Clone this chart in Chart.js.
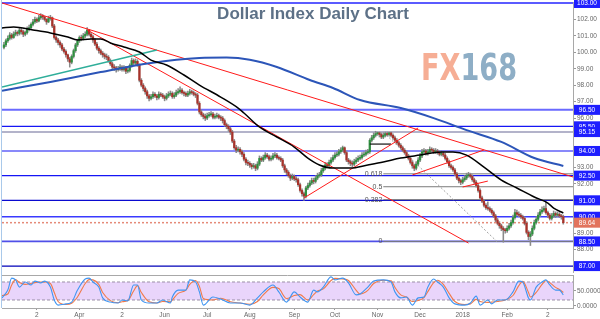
<!DOCTYPE html>
<html><head><meta charset="utf-8">
<script src="https://cdn.jsdelivr.net/npm/chart.js@4.4.1/dist/chart.umd.min.js"></script>
<style>
html,body{margin:0;padding:0;background:#fff;width:600px;height:319px;overflow:hidden;}
#wrap{position:relative;width:600px;height:319px;background:#fff;}
#c1{position:absolute;left:0;top:0;}
#c2{position:absolute;left:0;top:274px;}
</style></head><body>
<div id="wrap">
<canvas id="c1" width="600" height="274"></canvas>
<canvas id="c2" width="600" height="45"></canvas>
</div>
<script>
// ---------------- DATA ----------------
const chartTitle = "Dollar Index Daily Chart";
const monthTickIdx = [17,39,61,83,105,127,150,171,193,215,237,260,281];
const monthLabels = ["2","Apr","2","Jun","Jul","Aug","Sep","Oct","Nov","Dec","2018","Feb","2"];

const opens = [100.3,100.45,100.7,100.85,101.05,100.9,101.1,101.2,101.15,101.35,
101.25,101.1,101.2,101.4,101.5,101.7,101.85,102.0,101.9,102.1,
102.2,102.15,102.0,101.85,102.05,102.1,101.6,100.9,100.75,100.6,
100.45,100.2,100.05,99.85,99.6,99.4,99.75,100.1,100.45,100.7,
100.9,100.85,101.0,101.1,101.35,101.1,100.95,100.75,100.5,100.25,
100.1,99.95,99.85,99.75,99.7,99.5,99.3,99.1,99.05,98.95,
99.0,99.1,98.95,99.05,98.85,98.9,99.2,99.5,99.35,99.45,
99.25,98.3,98.0,97.8,97.6,97.35,97.2,97.3,97.45,97.35,
97.25,97.45,97.4,97.3,97.2,97.35,97.45,97.5,97.3,97.4,
97.55,97.6,97.7,97.55,97.5,97.4,97.5,97.6,97.55,97.45,
97.4,96.9,96.37,96.2,96.1,96.0,96.15,96.2,96.25,96.05,
96.1,96.15,96.05,96.0,95.85,95.6,95.5,95.35,95.15,94.6,
94.2,94.05,94.1,93.95,93.8,93.5,93.3,93.25,93.15,93.05,
93.1,92.95,93.2,93.55,93.45,93.6,93.75,93.65,93.5,93.55,
93.7,93.75,93.6,93.55,93.45,93.1,92.85,92.7,92.5,92.35,
92.45,92.3,92.25,91.95,91.6,91.4,91.25,91.75,91.9,92.05,
92.2,92.15,92.35,92.5,92.55,92.8,92.95,93.15,93.1,93.3,
93.45,93.6,93.75,93.8,93.95,94.05,94.2,93.9,93.45,93.35,
93.25,93.2,93.35,93.45,93.55,93.6,93.75,93.8,93.9,93.95,
94.65,94.8,94.95,95.05,95.1,95.0,94.85,94.95,95.05,95.0,
95.1,94.95,94.8,94.65,94.5,94.35,94.2,94.05,93.9,93.7,
93.55,93.3,93.1,92.95,93.2,93.45,93.7,93.95,94.0,93.85,
93.95,94.1,94.05,93.95,94.0,93.9,93.8,93.85,93.75,93.55,
93.35,93.1,93.0,92.85,92.6,92.35,92.2,92.1,92.25,92.35,
92.5,92.55,92.45,92.25,92.1,91.9,91.6,91.15,90.95,90.7,
90.55,90.5,90.4,90.25,90.05,89.8,89.6,89.45,89.3,89.2,
89.15,89.3,89.45,89.65,89.95,90.25,90.15,90.1,90.0,89.9,
89.6,89.05,88.8,88.95,89.3,89.65,89.85,90.1,90.3,90.4,
90.5,90.25,90.1,89.9,90.05,90.2,90.1,90.15,90.05,90.0];

const closes = [100.45,100.7,100.85,101.05,100.9,101.1,101.2,101.15,101.35,101.25,
101.1,101.2,101.4,101.5,101.7,101.85,102.0,101.9,102.1,102.2,
102.15,102.0,101.85,102.05,102.1,101.6,100.9,100.75,100.6,100.45,
100.2,100.05,99.85,99.6,99.4,99.75,100.1,100.45,100.7,100.9,
100.85,101.0,101.1,101.35,101.1,100.95,100.75,100.5,100.25,100.1,
99.95,99.85,99.75,99.7,99.5,99.3,99.1,99.05,98.95,99.0,
99.1,98.95,99.05,98.85,98.9,99.2,99.5,99.35,99.45,99.25,
98.3,98.0,97.8,97.6,97.35,97.2,97.3,97.45,97.35,97.25,
97.45,97.4,97.3,97.2,97.35,97.45,97.5,97.3,97.4,97.55,
97.6,97.7,97.55,97.5,97.4,97.5,97.6,97.55,97.45,97.4,
96.9,96.37,96.2,96.1,96.0,96.15,96.2,96.25,96.05,96.1,
96.15,96.05,96.0,95.85,95.6,95.5,95.35,95.15,94.6,94.2,
94.05,94.1,93.95,93.8,93.5,93.3,93.25,93.15,93.05,93.1,
92.95,93.2,93.55,93.45,93.6,93.75,93.65,93.5,93.55,93.7,
93.75,93.6,93.55,93.45,93.1,92.85,92.7,92.5,92.35,92.45,
92.3,92.25,91.95,91.6,91.4,91.25,91.75,91.9,92.05,92.2,
92.15,92.35,92.5,92.55,92.8,92.95,93.15,93.1,93.3,93.45,
93.6,93.75,93.8,93.95,94.05,94.2,93.9,93.45,93.35,93.25,
93.2,93.35,93.45,93.55,93.6,93.75,93.8,93.9,93.95,94.65,
94.8,94.95,95.05,95.1,95.0,94.85,94.95,95.05,95.0,95.1,
94.95,94.8,94.65,94.5,94.35,94.2,94.05,93.9,93.7,93.55,
93.3,93.1,92.95,93.2,93.45,93.7,93.95,94.0,93.85,93.95,
94.1,94.05,93.95,94.0,93.9,93.8,93.85,93.75,93.55,93.35,
93.1,93.0,92.85,92.6,92.35,92.2,92.1,92.25,92.35,92.5,
92.55,92.45,92.25,92.1,91.9,91.6,91.15,90.95,90.7,90.55,
90.5,90.4,90.25,90.05,89.8,89.6,89.45,89.3,89.2,89.15,
89.3,89.45,89.65,89.95,90.25,90.15,90.1,90.0,89.9,89.6,
89.05,88.8,88.95,89.3,89.65,89.85,90.1,90.3,90.4,90.5,
90.25,90.1,89.9,90.05,90.2,90.1,90.15,90.05,90.0,89.64];

const highs = [100.6,100.8,101.0,101.2,101.15,101.25,101.35,101.3,101.5,101.45,
101.35,101.3,101.55,101.65,101.8,102.0,102.15,102.1,102.25,102.35,
102.3,102.2,102.05,102.2,102.25,102.15,101.7,101.0,100.85,100.7,
100.55,100.3,100.15,99.9,99.7,99.85,100.2,100.55,100.8,101.0,
101.05,101.15,101.25,101.5,101.4,101.2,101.05,100.85,100.6,100.35,
100.2,100.05,99.95,99.9,99.8,99.6,99.4,99.25,99.15,99.15,
99.25,99.2,99.2,99.15,99.05,99.3,99.65,99.6,99.6,99.55,
99.3,98.4,98.1,97.9,97.7,97.45,97.45,97.6,97.55,97.45,
97.6,97.55,97.5,97.4,97.5,97.6,97.65,97.6,97.55,97.7,
97.8,97.9,97.8,97.65,97.6,97.65,97.75,97.7,97.65,97.55,
97.5,97.0,96.5,96.3,96.25,96.3,96.35,96.4,96.35,96.25,
96.3,96.25,96.15,96.1,95.95,95.7,95.6,95.45,95.25,94.7,
94.35,94.25,94.2,94.05,93.9,93.6,93.45,93.35,93.25,93.25,
93.2,93.35,93.7,93.65,93.75,93.9,93.85,93.75,93.7,93.85,
93.9,93.85,93.7,93.65,93.55,93.2,92.95,92.8,92.6,92.6,
92.55,92.45,92.35,92.05,91.7,91.5,91.85,92.05,92.2,92.35,
92.35,92.5,92.65,92.7,92.95,93.1,93.3,93.3,93.45,93.6,
93.75,93.9,93.95,94.1,94.2,94.3,94.25,94.0,93.55,93.45,
93.4,93.5,93.6,93.7,93.75,93.9,93.95,94.05,94.1,94.75,
94.95,95.1,95.2,95.15,95.15,95.1,95.1,95.15,95.15,95.15,
95.15,95.05,94.9,94.75,94.6,94.45,94.3,94.15,94.0,93.8,
93.65,93.4,93.2,93.35,93.6,93.85,94.1,94.15,94.1,94.1,
94.25,94.2,94.15,94.15,94.1,94.0,94.0,93.95,93.85,93.65,
93.45,93.2,93.1,92.95,92.7,92.45,92.3,92.4,92.5,92.65,
92.7,92.65,92.55,92.35,92.2,92.0,91.7,91.25,91.05,90.8,
90.9,90.6,90.5,90.35,90.15,89.9,89.7,89.55,89.4,89.3,
89.45,89.6,89.8,90.1,90.45,90.4,90.3,90.2,90.1,90.0,
89.7,89.15,89.1,89.45,89.8,90.0,90.25,90.45,90.6,90.65,
90.9,90.35,90.2,90.2,90.35,90.3,90.3,90.25,90.15,90.1];

const lows = [100.2,100.35,100.6,100.75,100.8,100.85,101.0,101.0,101.05,101.1,
100.95,101.0,101.1,101.3,101.4,101.6,101.75,101.8,101.85,102.0,
102.0,101.9,101.7,101.8,101.95,101.5,100.8,100.6,100.45,100.3,
100.1,99.95,99.7,99.45,99.1,99.3,99.65,100.0,100.35,100.6,
100.7,100.75,100.9,101.0,101.0,100.85,100.6,100.4,100.15,99.95,
99.85,99.7,99.6,99.55,99.4,99.2,99.0,98.9,98.8,98.85,
98.9,98.85,98.85,98.7,98.75,98.8,99.1,99.25,99.25,99.15,
98.2,97.9,97.65,97.45,97.2,97.05,97.1,97.2,97.25,97.1,
97.15,97.3,97.2,97.05,97.1,97.25,97.35,97.2,97.2,97.3,
97.45,97.5,97.45,97.35,97.3,97.3,97.4,97.45,97.35,97.25,
96.8,96.25,96.1,95.95,95.85,95.9,96.05,96.1,95.95,95.95,
96.0,95.95,95.85,95.7,95.5,95.35,95.2,95.0,94.5,94.1,
93.9,93.95,93.8,93.65,93.4,93.15,93.1,93.0,92.9,92.95,
92.8,92.85,93.1,93.35,93.35,93.5,93.55,93.4,93.4,93.45,
93.6,93.5,93.45,93.35,93.0,92.7,92.55,92.4,92.2,92.25,
92.2,92.1,91.85,91.5,91.25,91.0,91.15,91.65,91.8,91.95,
92.0,92.05,92.25,92.4,92.45,92.7,92.85,93.0,93.0,93.2,
93.35,93.5,93.65,93.7,93.85,93.95,93.8,93.35,93.2,93.1,
93.05,93.1,93.25,93.35,93.45,93.5,93.65,93.7,93.8,93.85,
94.55,94.7,94.85,94.95,94.85,94.75,94.75,94.85,94.9,94.9,
94.85,94.7,94.55,94.4,94.25,94.1,93.95,93.8,93.6,93.45,
93.2,92.95,92.8,92.85,93.1,93.35,93.6,93.85,93.75,93.75,
93.85,93.95,93.85,93.85,93.8,93.7,93.7,93.65,93.45,93.25,
93.0,92.9,92.75,92.5,92.25,92.05,91.95,92.0,92.15,92.25,
92.4,92.35,92.15,92.0,91.8,91.5,91.05,90.85,90.6,90.45,
90.4,90.3,90.15,89.95,89.7,89.5,89.3,89.15,88.45,89.0,
89.05,89.2,89.35,89.55,89.85,90.05,90.0,89.9,89.8,89.5,
88.95,88.6,88.25,88.85,89.2,89.55,89.75,90.0,90.2,90.3,
90.15,89.95,89.8,89.8,89.95,89.95,90.0,89.95,89.85,89.55];

// moving averages (bar index, value)
const maFastIdx = [-1,5,15,24,33,38,45,50,55,62,70,76,84,93,101,112,121,124,132,141,150,157,163,170,179,188,196,205,215,226,232,239,248,257,265,274,281,284,289];
const maFast    = [101.48,101.54,101.36,101.18,100.93,100.75,100.81,100.81,100.57,100.32,100.02,99.53,99.23,98.62,98.01,97.28,96.61,96.31,95.46,94.85,94.24,93.57,93.15,92.96,92.96,93.15,93.33,93.57,93.75,93.94,93.94,93.75,93.02,92.23,91.75,91.20,90.83,90.53,90.23];
const maSlowIdx = [-1,24,50,76,101,115,127,141,158,170,184,205,222,239,257,274,289];
const maSlow    = [97.66,98.2,98.8,99.35,99.65,99.68,99.55,99.11,98.32,97.83,97.10,96.61,96.00,95.27,94.55,93.57,93.09];

// drawn trend lines: [startIdx, startPrice, endIdx, endPrice]
const trendRed1   = [-1, 103.0, 294, 92.42];
const trendRed2   = [43, 101.36, 240, 88.40];
const trendTeal   = [-1, 97.89, 79, 100.14];
const trendRedUp1 = [155, 91.14, 214, 95.40];
const trendRedUp2 = [211, 92.54, 248, 94.06];
const trendRedUp3 = [237, 91.81, 250, 92.17];
const rangeBlack  = [189, 94.42, 200, 94.42];
const fibDiag     = [196, 95.15, 255, 88.46];

// horizontal levels
const keyLevels = [103.00, 96.50, 95.50, 95.15, 94.00, 92.50, 91.00, 90.00, 88.50, 87.00];
const lastPrice = 89.64;
const axisTicks = [102,101,100,99,98,97,96,93,92,89,88];
const fibRatios = [0.618, 0.5, 0.382, 0];
const fibHigh = 95.15, fibLow = 88.5, fibStartIdx = 196;

// stochastic oscillator
const stochIdx = [-1,2,4,6,8,11,14,16,19,21,24,26,28,32,35,38,42,44,46,49,51,55,59,61,64,67,69,71,75,79,82,86,87,90,94,96,99,101,103,108,112,117,122,127,131,134,139,142,146,150,153,157,160,162,165,169,171,175,178,182,184,188,191,196,200,202,205,208,211,214,217,219,222,224,227,230,233,238,241,244,246,250,252,255,259,263,266,268,271,272,275,278,280,282,285,287,289];
const stochK = [27,53,93,87,63,80,70,83,77,83,63,20,3,7,13,53,90,93,80,63,27,13,10,20,17,70,70,20,10,10,20,10,30,53,53,87,80,47,3,30,23,10,10,3,27,47,70,47,13,47,30,13,53,47,63,97,87,93,77,37,40,63,83,87,80,47,27,30,3,27,30,63,90,80,63,27,7,3,10,33,3,20,7,20,20,47,83,80,27,20,63,80,87,70,53,53,37];
const stochD = [35,40,70,88,78,72,75,78,80,80,75,45,15,5,9,30,75,88,87,72,45,18,11,14,18,50,68,45,14,10,15,14,20,42,53,72,85,65,25,20,26,14,10,6,15,37,62,58,25,35,38,20,38,50,57,85,92,90,85,52,40,52,75,86,84,62,37,30,15,18,28,48,78,86,72,42,15,5,7,22,15,12,13,15,20,35,68,82,45,30,45,72,84,78,62,55,45];
const stochUpper = 80, stochLower = 20;
const stochAxisTicks = [50, 0];

// ---------------- STYLES ----------------
const UP = '#2f8f3f', DOWN = '#a8322a', WICK = '#8a8a8a';
const levelLineStyles = [
  {color:'#5b5bff', width:2},
  {color:'#6a6aff', width:2},
  {color:'#1515f5', width:1.2},
  {color:'#9a9ab8', width:1.5},
  {color:'#1515f5', width:1.2},
  {color:'#1515f5', width:1.2},
  {color:'#0a0ad0', width:1.2},
  {color:'#3a3aff', width:1.6},
  {color:'#5050e8', width:1.8},
  {color:'#0000b8', width:1.2}
];
const boxBlue = '#1e1eff', boxRed = '#e2735c';
const FONT = "'Liberation Sans', Arial, sans-serif";

// ---------------- MAIN CHART ----------------
const barIdx = closes.map((_, i) => i);
const seg = (t) => [{x:t[0], y:t[1]}, {x:t[2], y:t[3]}];
const lineDs = (data, color, width, extra) => Object.assign({
  type:'line', data, borderColor:color, borderWidth:width, pointRadius:0,
  fill:false, tension:0, order:1 }, extra || {});

const overlay = {
  id:'overlay',
  beforeDatasetsDraw(chart){
    const {ctx, chartArea:a, scales:{x, y}} = chart;
    ctx.save();
    // watermark
    ctx.font = "bold 36px 'DejaVu Sans', " + FONT;
    ctx.textBaseline = 'alphabetic';
    const w1 = ctx.measureText('FX').width, w2 = ctx.measureText('168').width;
    const sx = 96 / (w1 + w2);
    ctx.translate(421, 80); ctx.scale(sx, 27/26);
    ctx.fillStyle = '#f6ae95'; ctx.fillText('FX', 0, 0);
    ctx.fillStyle = '#8eaec6'; ctx.fillText('168', w1, 0);
    ctx.restore();

    ctx.save();
    ctx.beginPath(); ctx.rect(a.left, 0, a.right - a.left, a.bottom); ctx.clip();
    keyLevels.forEach((v, k) => {
      const st = levelLineStyles[k];
      const py = y.getPixelForValue(v);
      ctx.strokeStyle = st.color; ctx.lineWidth = st.width;
      ctx.beginPath(); ctx.moveTo(a.left, py); ctx.lineTo(a.right, py); ctx.stroke();
    });
    // last price dotted
    const lp = y.getPixelForValue(lastPrice);
    ctx.setLineDash([2, 2]); ctx.strokeStyle = '#e58a78'; ctx.lineWidth = 1.5;
    ctx.beginPath(); ctx.moveTo(a.left, lp); ctx.lineTo(a.right, lp); ctx.stroke();
    ctx.setLineDash([]);
    // fib lines
    const fx = x.getPixelForValue(fibStartIdx);
    ctx.strokeStyle = '#7a7a7a'; ctx.lineWidth = 1;
    fibRatios.forEach(r => {
      const py = y.getPixelForValue(fibLow + r * (fibHigh - fibLow));
      ctx.beginPath(); ctx.moveTo(fx, py); ctx.lineTo(a.right, py); ctx.stroke();
    });
    // fib diagonal
    ctx.setLineDash([2, 2]); ctx.strokeStyle = '#a0a0a0';
    ctx.beginPath();
    ctx.moveTo(x.getPixelForValue(fibDiag[0]), y.getPixelForValue(fibDiag[1]));
    ctx.lineTo(x.getPixelForValue(fibDiag[2]), y.getPixelForValue(fibDiag[3]));
    ctx.stroke(); ctx.setLineDash([]);
    ctx.restore();
  },
  afterDraw(chart){
    const {ctx, chartArea:a, scales:{x, y}} = chart;
    ctx.save();
    // left frame line
    ctx.strokeStyle = '#a9c9ea'; ctx.lineWidth = 1;
    ctx.beginPath(); ctx.moveTo(1.5, 0); ctx.lineTo(1.5, chart.height); ctx.stroke();
    // fib labels
    const fx = x.getPixelForValue(fibStartIdx);
    ctx.font = '7px ' + FONT; ctx.fillStyle = '#555'; ctx.textAlign = 'right'; ctx.textBaseline = 'middle';
    fibRatios.forEach(r => {
      const py = y.getPixelForValue(fibLow + r * (fibHigh - fibLow));
      ctx.fillText(String(r), fx - 1, py);
    });
    // axis boxes
    ctx.font = '6.5px ' + FONT; ctx.textAlign = 'center';
    const drawBox = (v, col) => {
      const py = y.getPixelForValue(v);
      ctx.fillStyle = col; ctx.fillRect(a.right + 1, py - 5, 26, 10);
      ctx.fillStyle = '#fff'; ctx.fillText(v.toFixed(2), a.right + 14, py + 0.5);
    };
    keyLevels.forEach(v => drawBox(v, boxBlue));
    drawBox(lastPrice, boxRed);
    // title
    ctx.font = 'bold 17px ' + FONT; ctx.fillStyle = '#5d7187';
    ctx.textAlign = 'center'; ctx.textBaseline = 'alphabetic';
    ctx.fillText(chartTitle, 313, 18.5);
    ctx.restore();
  }
};

new Chart(document.getElementById('c1'), {
  type:'bar',
  data:{ datasets:[
    lineDs(seg(trendTeal), '#2fae9a', 1.5),
    lineDs(maSlowIdx.map((v,k)=>({x:v, y:maSlow[k]})), '#2c55b8', 2, {tension:0.4, cubicInterpolationMode:'monotone'}),
    lineDs(seg(trendRed1), '#ff1a1a', 1),
    lineDs(seg(trendRed2), '#ff1a1a', 1),
    lineDs(seg(trendRedUp1), '#ff1a1a', 1),
    lineDs(seg(trendRedUp2), '#ff1a1a', 1),
    lineDs(seg(trendRedUp3), '#ff1a1a', 1),
    lineDs(maFastIdx.map((v,k)=>({x:v, y:maFast[k]})), '#000000', 1.5, {tension:0.4, cubicInterpolationMode:'monotone', order:0}),
    lineDs(seg(rangeBlack), '#111', 1.2),
    { type:'bar', data: barIdx.map(i => ({x:i, y:[lows[i], highs[i]]})),
      backgroundColor: WICK, barThickness: 0.9, grouped:false, order:3 },
    { type:'bar', data: barIdx.map(i => ({x:i, y:[opens[i], closes[i]]})),
      backgroundColor: barIdx.map(i => closes[i] >= opens[i] ? UP : DOWN),
      barThickness: 1.6, minBarLength: 1, grouped:false, order:2 }
  ]},
  options:{
    responsive:false, animation:false, events:[],
    layout:{ padding:{ left:2, top:2, right:0, bottom:2 } },
    plugins:{ legend:{display:false}, tooltip:{enabled:false} },
    scales:{
      x:{ type:'linear', min:-1, max:294, display:false, offset:false },
      y:{ position:'right', min:86.64, max:103.06,
        afterFit(s){ s.width = 27; s.paddingTop = 0; s.paddingBottom = 0; },
        afterBuildTicks(s){ s.ticks = axisTicks.map(v => ({value:v})); },
        ticks:{ color:'#666', padding:1, font:{size:6.5, family:FONT}, callback:v => Number(v).toFixed(2), autoSkip:false },
        grid:{ display:true, drawOnChartArea:false, drawTicks:true, tickLength:3, color:'#999' },
        border:{ display:true, color:'#a8a8a8' } }
    }
  },
  plugins:[overlay]
});

// ---------------- STOCHASTIC PANEL ----------------
const band = {
  id:'band',
  beforeDatasetsDraw(chart){
    const {ctx, chartArea:a, scales:{y}} = chart;
    const yU = y.getPixelForValue(stochUpper), yL = y.getPixelForValue(stochLower);
    ctx.save();
    ctx.fillStyle = '#e9d5fb';
    ctx.fillRect(a.left, yU, a.right - a.left, yL - yU);
    ctx.strokeStyle = '#9a8fa6'; ctx.lineWidth = 1; ctx.setLineDash([3, 2]);
    [yU, yL].forEach(py => { ctx.beginPath(); ctx.moveTo(a.left, py); ctx.lineTo(a.right, py); ctx.stroke(); });
    ctx.setLineDash([]);
    ctx.strokeStyle = '#a8a8a8';
    ctx.beginPath(); ctx.moveTo(a.left, a.top + 0.5); ctx.lineTo(a.right, a.top + 0.5); ctx.stroke();
    ctx.restore();
  },
  afterDraw(chart){
    const {ctx} = chart;
    ctx.save();
    ctx.strokeStyle = '#a9c9ea'; ctx.lineWidth = 1;
    ctx.beginPath(); ctx.moveTo(1.5, 0); ctx.lineTo(1.5, chart.chartArea.bottom); ctx.stroke();
    ctx.restore();
  }
};

new Chart(document.getElementById('c2'), {
  type:'line',
  data:{ datasets:[
    { data: stochIdx.map((v,k)=>({x:v, y:stochK[k]})), borderColor:'#3f95f2', borderWidth:1.1, pointRadius:0, tension:0.4, cubicInterpolationMode:'monotone' },
    { data: stochIdx.map((v,k)=>({x:v, y:stochD[k]})), borderColor:'#f07a4a', borderWidth:1.1, pointRadius:0, tension:0.4, cubicInterpolationMode:'monotone' }
  ]},
  options:{
    responsive:false, animation:false, events:[],
    layout:{ padding:{ left:2, top:1, right:0, bottom:0 } },
    plugins:{ legend:{display:false}, tooltip:{enabled:false} },
    scales:{
      x:{ type:'linear', min:-1, max:294, position:'bottom',
        afterFit(s){ s.height = 11; s.paddingLeft = 0; s.paddingRight = 0; },
        afterBuildTicks(s){ s.ticks = monthTickIdx.map(v => ({value:v})); },
        ticks:{ color:'#666', padding:1, maxRotation:0, autoSkip:false, font:{size:6.5, family:FONT},
          callback:(v) => monthLabels[monthTickIdx.indexOf(v)] },
        grid:{ display:true, drawOnChartArea:false, drawTicks:true, tickLength:2, color:'#999' },
        border:{ display:true, color:'#a8a8a8' } },
      y:{ position:'right', min:-6.7, max:103.3,
        afterFit(s){ s.width = 27; s.paddingTop = 0; s.paddingBottom = 0; },
        afterBuildTicks(s){ s.ticks = stochAxisTicks.map(v => ({value:v})); },
        ticks:{ color:'#666', padding:1, font:{size:6.5, family:FONT}, callback:v => Number(v).toFixed(4) },
        grid:{ display:true, drawOnChartArea:false, drawTicks:true, tickLength:3, color:'#999' },
        border:{ display:true, color:'#a8a8a8' } }
    }
  },
  plugins:[band]
});
</script>
</body></html>
